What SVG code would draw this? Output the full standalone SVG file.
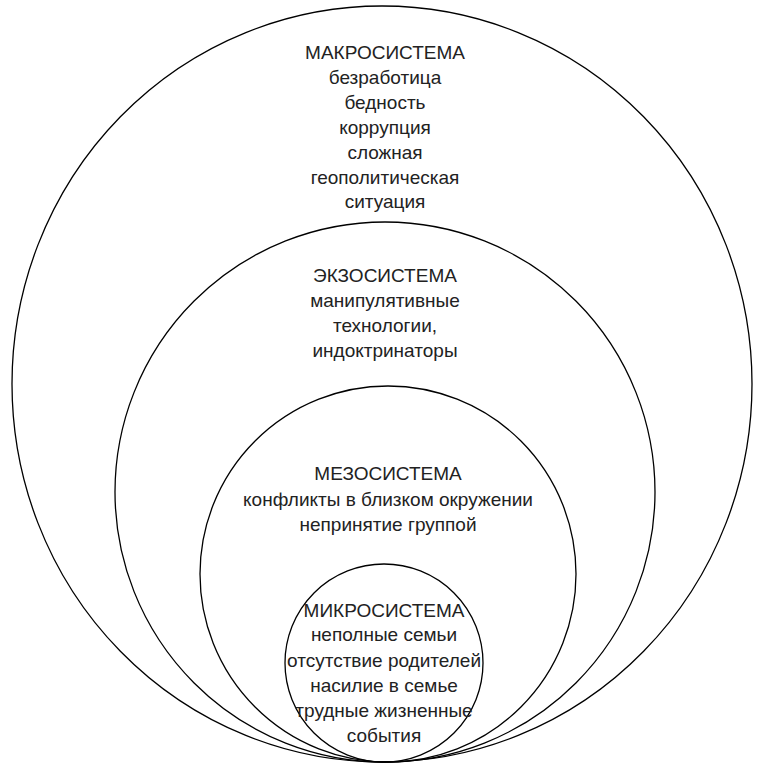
<svg xmlns="http://www.w3.org/2000/svg" width="763" height="767" viewBox="0 0 763 767">
<style>
.c{fill:none;stroke:#000;stroke-width:1.3}
.t{font-family:"Liberation Sans",Arial,sans-serif;font-size:19px;fill:#222;text-anchor:middle}
</style>
<rect width="763" height="767" fill="#fff"/>
<g id="macro">
<ellipse class="c" cx="382" cy="384" rx="370" ry="378"/>
<text class="t" x="385" y="59">МАКРОСИСТЕМА</text>
<text class="t" x="385" y="84">безработица</text>
<text class="t" x="385" y="109">бедность</text>
<text class="t" x="385" y="134">коррупция</text>
<text class="t" x="385" y="159">сложная</text>
<text class="t" x="385" y="184">геополитическая</text>
<text class="t" x="385" y="208">ситуация</text>
</g>
<g id="exo">
<ellipse class="c" cx="385" cy="492" rx="270" ry="270"/>
<text class="t" x="385" y="282">ЭКЗОСИСТЕМА</text>
<text class="t" x="385" y="307">манипулятивные</text>
<text class="t" x="385" y="332">технологии,</text>
<text class="t" x="385" y="357">индоктринаторы</text>
</g>
<g id="meso">
<ellipse class="c" cx="388" cy="574" rx="188" ry="188"/>
<text class="t" x="388" y="480">МЕЗОСИСТЕМА</text>
<text class="t" x="388" y="506">конфликты в близком окружении</text>
<text class="t" x="388" y="531">непринятие группой</text>
</g>
<g id="micro">
<ellipse class="c" cx="384" cy="663" rx="99" ry="99"/>
<text class="t" x="384" y="617">МИКРОСИСТЕМА</text>
<text class="t" x="384" y="641">неполные семьи</text>
<text class="t" x="384" y="667">отсутствие родителей</text>
<text class="t" x="384" y="692">насилие в семье</text>
<text class="t" x="384" y="717">трудные жизненные</text>
<text class="t" x="384" y="742">события</text>
</g>
<g id="connectors"/>
</svg>
